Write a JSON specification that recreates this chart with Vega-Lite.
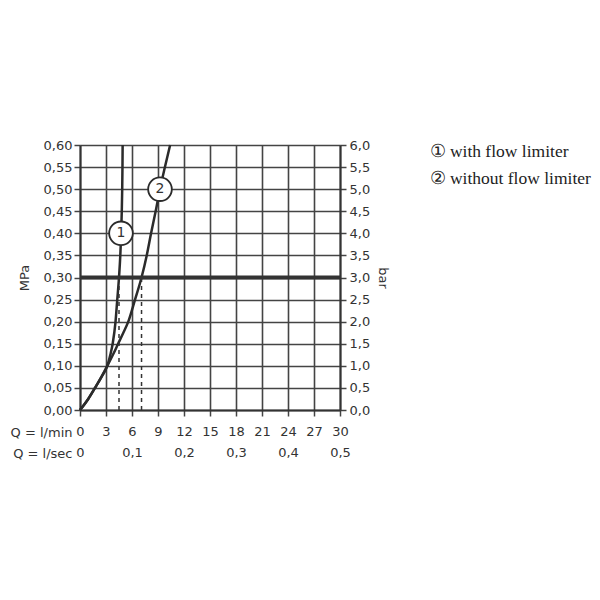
{
  "$schema": "https://vega.github.io/schema/vega-lite/v6.json",
  "width": 260,
  "height": 265,
  "autosize": {"type": "none"},
  "padding": {"left": 80, "top": 145, "right": 260, "bottom": 190},
  "background": "white",
  "config": {
    "view": {"stroke": null},
    "font": "DejaVu Sans",
    "axis": {
      "labelFont": "DejaVu Sans",
      "labelFontSize": 13,
      "labelColor": "#333",
      "titleFont": "DejaVu Sans",
      "titleFontSize": 13,
      "titleFontWeight": "normal",
      "titleColor": "#333",
      "tickColor": "#444",
      "tickWidth": 1.5,
      "tickSize": 6,
      "domainColor": "#333",
      "domainWidth": 2,
      "gridColor": "#444",
      "gridWidth": 1.6,
      "gridOpacity": 1
    }
  },
  "datasets": {
    "curves": [
      {"series": "① with flow limiter", "q": 0, "p": 0},
      {"series": "① with flow limiter", "q": 0.95, "p": 0.025},
      {"series": "① with flow limiter", "q": 1.73, "p": 0.05},
      {"series": "① with flow limiter", "q": 2.48, "p": 0.075},
      {"series": "① with flow limiter", "q": 3.15, "p": 0.1},
      {"series": "① with flow limiter", "q": 3.5, "p": 0.125},
      {"series": "① with flow limiter", "q": 3.77, "p": 0.15},
      {"series": "① with flow limiter", "q": 4.1, "p": 0.2},
      {"series": "① with flow limiter", "q": 4.3, "p": 0.25},
      {"series": "① with flow limiter", "q": 4.5, "p": 0.3},
      {"series": "① with flow limiter", "q": 4.65, "p": 0.35},
      {"series": "① with flow limiter", "q": 4.75, "p": 0.4},
      {"series": "① with flow limiter", "q": 4.82, "p": 0.45},
      {"series": "① with flow limiter", "q": 4.87, "p": 0.5},
      {"series": "① with flow limiter", "q": 4.9, "p": 0.55},
      {"series": "① with flow limiter", "q": 4.92, "p": 0.6},
      {"series": "② without flow limiter", "q": 0, "p": 0},
      {"series": "② without flow limiter", "q": 0.95, "p": 0.025},
      {"series": "② without flow limiter", "q": 1.73, "p": 0.05},
      {"series": "② without flow limiter", "q": 2.48, "p": 0.075},
      {"series": "② without flow limiter", "q": 3.15, "p": 0.1},
      {"series": "② without flow limiter", "q": 3.8, "p": 0.125},
      {"series": "② without flow limiter", "q": 4.4, "p": 0.15},
      {"series": "② without flow limiter", "q": 5.0, "p": 0.175},
      {"series": "② without flow limiter", "q": 5.57, "p": 0.2},
      {"series": "② without flow limiter", "q": 6.35, "p": 0.25},
      {"series": "② without flow limiter", "q": 7.1, "p": 0.3},
      {"series": "② without flow limiter", "q": 7.7, "p": 0.35},
      {"series": "② without flow limiter", "q": 8.2, "p": 0.4},
      {"series": "② without flow limiter", "q": 8.73, "p": 0.45},
      {"series": "② without flow limiter", "q": 9.23, "p": 0.5},
      {"series": "② without flow limiter", "q": 9.8, "p": 0.55},
      {"series": "② without flow limiter", "q": 10.4, "p": 0.6}
    ],
    "dashes": [
      {"q": 4.5, "p": 0, "p2": 0.3},
      {"q": 7.1, "p": 0, "p2": 0.3}
    ],
    "markers": [
      {"q": 4.73, "p": 0.4, "label": "1"},
      {"q": 9.23, "p": 0.5, "label": "2"}
    ],
    "limit": [
      {"qs": 0, "qs2": 0.5, "bar": 3.0}
    ]
  },
  "layer": [
    {
      "encoding": {
        "x": {
          "field": "q", "type": "quantitative",
          "scale": {"domain": [0, 30], "nice": false, "zero": false},
          "axis": {
            "orient": "bottom",
            "values": [0, 3, 6, 9, 12, 15, 18, 21, 24, 27, 30],
            "grid": true,
            "labelPadding": 9,
            "labelFlush": false,
            "labelOverlap": false,
            "title": "Q = l/min",
            "titleAngle": 0,
            "titleAlign": "right",
            "titleBaseline": "middle",
            "titleX": -8,
            "titleY": 22
          }
        },
        "y": {
          "field": "p", "type": "quantitative",
          "scale": {"domain": [0, 0.6], "nice": false, "zero": false},
          "axis": {
            "orient": "left",
            "values": [0, 0.05, 0.1, 0.15, 0.2, 0.25, 0.3, 0.35, 0.4, 0.45, 0.5, 0.55, 0.6],
            "grid": true,
            "labelPadding": 2,
            "labelFlush": false,
            "labelOverlap": false,
            "labelExpr": "replace(format(datum.value, '.2f'), '.', ',')",
            "title": "MPa",
            "titlePadding": 12
          }
        }
      },
      "layer": [
        {
          "data": {"name": "curves"},
          "mark": {"type": "line", "strokeWidth": 2.5, "interpolate": "monotone"},
          "encoding": {
            "color": {
              "field": "series", "type": "nominal",
              "scale": {"range": ["#2b2b2b", "#2b2b2b"]},
              "legend": {
                "orient": "none",
                "legendX": 332,
                "legendY": -2,
                "title": null,
                "symbolType": "circle",
                "symbolSize": 0,
                "symbolStrokeWidth": 0,
                "labelFont": "Liberation Serif",
                "labelFontSize": 17.5,
                "labelColor": "#222",
                "labelOffset": 0,
                "labelLimit": 0,
                "rowPadding": 8.5
              }
            }
          }
        },
        {
          "data": {"name": "dashes"},
          "mark": {"type": "rule", "strokeWidth": 1.5, "strokeDash": [4, 4], "color": "#333"},
          "encoding": {
            "y2": {"field": "p2"}
          }
        },
        {
          "data": {"name": "markers"},
          "mark": {"type": "point", "filled": false, "fill": "white", "fillOpacity": 1, "stroke": "#2b2b2b", "strokeWidth": 1.8, "size": 560, "shape": "circle", "opacity": 1},
          "encoding": {}
        },
        {
          "data": {"name": "markers"},
          "mark": {"type": "text", "font": "DejaVu Sans", "fontSize": 14, "color": "#333", "align": "center", "baseline": "middle"},
          "encoding": {
            "text": {"field": "label"}
          }
        }
      ]
    },
    {
      "data": {"name": "limit"},
      "mark": {"type": "rule", "strokeWidth": 4, "color": "#333"},
      "encoding": {
        "x": {
          "field": "qs", "type": "quantitative",
          "scale": {"domain": [0, 0.5], "nice": false, "zero": false},
          "axis": {
            "orient": "bottom",
            "values": [0, 0.1, 0.2, 0.3, 0.4, 0.5],
            "grid": false,
            "domain": false,
            "ticks": false,
            "tickSize": 0,
            "labelPadding": 36,
            "labelFlush": false,
            "labelOverlap": false,
            "labelExpr": "datum.value == 0 ? '0' : replace(format(datum.value, '.1f'), '.', ',')",
            "title": "Q = l/sec",
            "titleAngle": 0,
            "titleAlign": "right",
            "titleBaseline": "middle",
            "titleX": -8,
            "titleY": 43
          }
        },
        "x2": {"field": "qs2"},
        "y": {
          "field": "bar", "type": "quantitative",
          "scale": {"domain": [0, 6], "nice": false, "zero": false},
          "axis": {
            "orient": "right",
            "values": [0, 0.5, 1, 1.5, 2, 2.5, 3, 3.5, 4, 4.5, 5, 5.5, 6],
            "grid": false,
            "labelPadding": 3,
            "labelFlush": false,
            "labelOverlap": false,
            "labelExpr": "replace(format(datum.value, '.1f'), '.', ',')",
            "title": "bar",
            "titlePadding": 6
          }
        }
      }
    }
  ],
  "resolve": {
    "scale": {"x": "independent", "y": "independent"},
    "axis": {"x": "independent", "y": "independent"}
  }
}
